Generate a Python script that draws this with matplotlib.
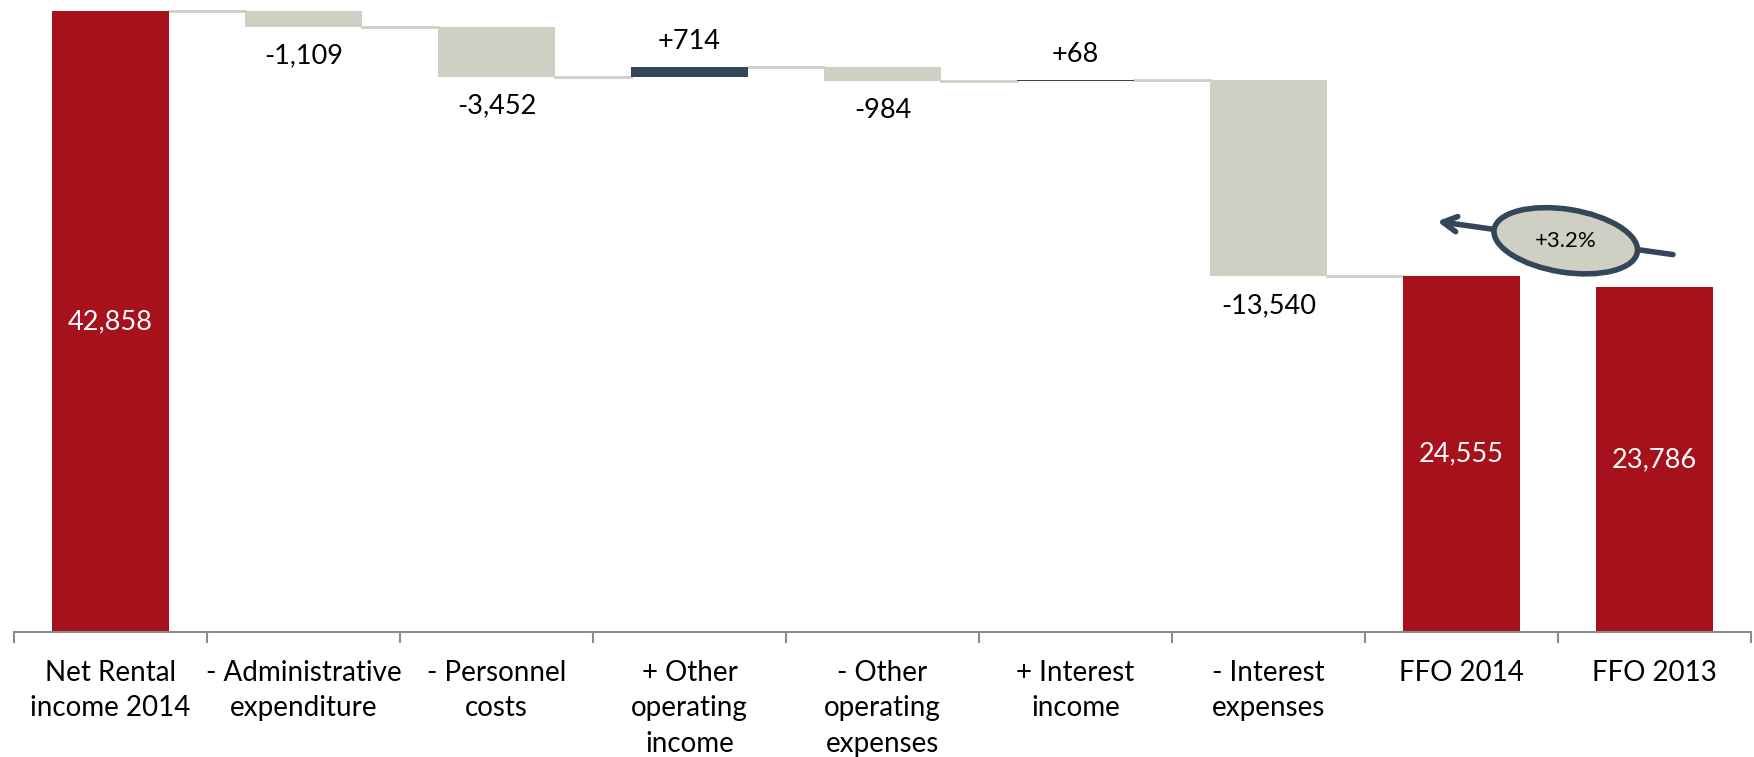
import matplotlib.pyplot as plt
from matplotlib.patches import Ellipse
from matplotlib.transforms import ScaledTranslation

plt.rcParams['font.family'] = ['Lato', 'DejaVu Sans']

# categories and values (EUR thousand)
categories = ["Net Rental\nincome 2014", "- Administrative\nexpenditure", "- Personnel\ncosts",
              "+ Other\noperating\nincome", "- Other\noperating\nexpenses", "+ Interest\nincome",
              "- Interest\nexpenses", "FFO 2014", "FFO 2013"]
start_value = 42858
steps = [-1109, -3452, 714, -984, 68, -13540]
ffo_2014 = 24555
ffo_2013 = 23786

RED = '#A6111C'
BEIGE = '#D0CFC3'
NAVY = '#34465A'

fig = plt.figure(figsize=(17.54, 7.57), dpi=100)
ax = fig.add_axes([14 / 1754, 125 / 757, 1737 / 1754, 632 / 757])

w = 0.61

# first total bar
ax.bar(0, start_value, width=w, color=RED)
ax.text(0, start_value / 2, f"{start_value:,}", color='white', ha='center', va='center', fontsize=19.5)

# waterfall steps
level = start_value
for i, d in enumerate(steps, start=1):
    new_level = level + d
    color = NAVY if d > 0 else BEIGE
    ax.bar(i, abs(d), bottom=min(level, new_level), width=w, color=color)
    # connector from previous bar
    ax.plot([i - 1 + w / 2, i - w / 2], [level, level], color=BEIGE, lw=2, zorder=0)
    if d > 0:
        ax.annotate(f"+{d:,}", (i, new_level), xytext=(0, 9), textcoords='offset points',
                    ha='center', va='bottom', fontsize=19.5)
    else:
        ax.annotate(f"{d:,}", (i, new_level), xytext=(0, -12), textcoords='offset points',
                    ha='center', va='top', fontsize=19.5)
    level = new_level

# connector into FFO 2014
ax.plot([6 + w / 2, 7 - w / 2], [level, level], color=BEIGE, lw=2, zorder=0)

for x, v in [(7, ffo_2014), (8, ffo_2013)]:
    ax.bar(x, v, width=w, color=RED)
    ax.text(x, v / 2, f"{v:,}", color='white', ha='center', va='center', fontsize=19.5)

# growth bubble with arrow between the two FFO bars
growth = (ffo_2014 / ffo_2013 - 1) * 100
ax.annotate('', xy=(6.86, 28364), xytext=(8.11, 26018),
            arrowprops=dict(arrowstyle='->,head_length=1.0,head_width=0.55', color=NAVY, lw=4))
ell = Ellipse((0, 0), 1.45, 0.63, angle=-9, facecolor=BEIGE, edgecolor=NAVY, lw=4,
              transform=fig.dpi_scale_trans + ScaledTranslation(7.54, 27000, ax.transData), zorder=5)
ax.add_patch(ell)
ax.text(7.54, 27000, f"+{growth:.1f}%", ha='center', va='center', fontsize=16, zorder=6)

ax.set_xlim(-0.5, 8.5)
ax.set_ylim(0, 43615)

for s in ['top', 'right', 'left']:
    ax.spines[s].set_visible(False)
ax.spines['bottom'].set_color('#8C8C8C')
ax.spines['bottom'].set_linewidth(1.5)
ax.set_yticks([])

ax.set_xticks([i - 0.5 for i in range(10)])
ax.set_xticklabels([])
ax.tick_params(axis='x', which='major', length=8, width=1.5, color='#8C8C8C', direction='out')
ax.set_xticks(range(9), minor=True)
ax.set_xticklabels(categories, minor=True, fontsize=20, linespacing=1.45)
ax.tick_params(axis='x', which='minor', length=0, pad=20)

fig.savefig('out.png', dpi=100)
